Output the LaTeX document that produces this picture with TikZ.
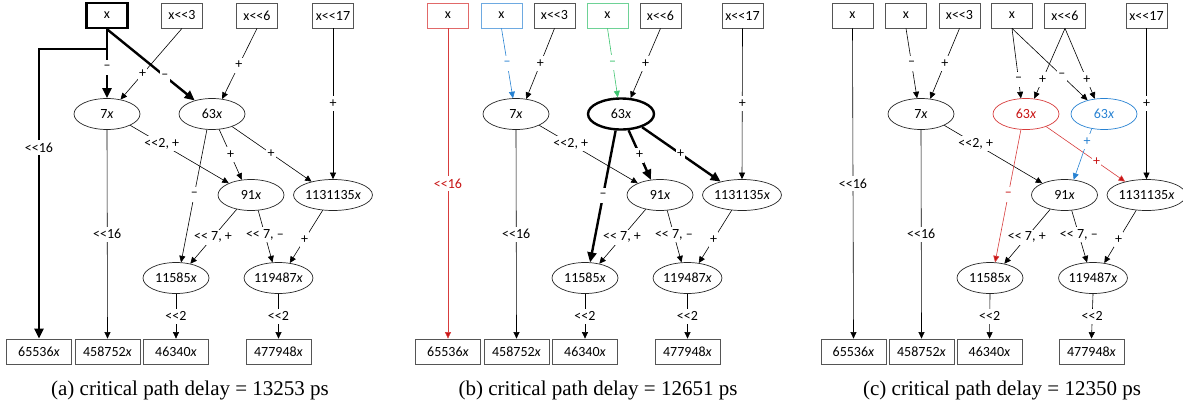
\documentclass[tikz,border=0pt]{standalone}
\usepackage{fontspec}
\setmainfont{Liberation Serif}
\newfontfamily\calfont{Carlito}
\usetikzlibrary{arrows.meta,shapes.geometric}
\newcommand\shl{<\kern0pt<}
\newcommand\nodefont{\calfont\fontsize{14}{15}\selectfont}
\definecolor{boxgray}{RGB}{85,85,85}
\definecolor{rline}{RGB}{215,60,60}
\definecolor{rtext}{RGB}{200,20,20}
\definecolor{rbox}{RGB}{225,105,105}
\definecolor{bline}{RGB}{40,130,210}
\definecolor{bbox}{RGB}{110,170,225}
\definecolor{gline}{RGB}{60,195,110}
\definecolor{gbox}{RGB}{110,210,150}
\begin{document}
\begin{tikzpicture}[x=1pt,y=-1pt,
  tb/.style={draw=boxgray, line width=0.8pt, minimum width=41pt, minimum height=25pt, inner sep=0pt, font=\nodefont},
  ob/.style={tb, minimum width=65pt},
  el/.style={ellipse, draw=black!85, line width=0.7pt, minimum width=66pt, minimum height=31pt, inner sep=0pt, font=\nodefont},
  lab/.style={fill=white, inner xsep=1.2pt, inner ysep=0pt, minimum height=15pt, font=\nodefont},
  ar/.style={line width=0.6pt, -{Triangle[length=6.5pt,width=6pt]}},
  tk/.style={line width=2.4pt, -{Triangle[length=10pt,width=9pt]}},
  captext/.style={font=\fontsize{21}{21}\selectfont}]
\useasboundingbox (0,0) rectangle (1183,408);

% ================= panel (a) =================
\node[tb, draw=black, line width=2.4pt] (ax) at (107,15.5) {x};
\node[tb] (ax3) at (182,15.5) {x\shl3};
\node[tb] (ax6) at (257,15.5) {x\shl6};
\node[tb] (ax17) at (333,15.5) {x\shl17};
\node[el] (a7) at (107,114) {7\textit{x}};
\node[el] (a63) at (212,114) {63\textit{x}};
\node[el] (a91) at (251,195) {91\textit{x}};
\node[el] (a113) at (333,195) {1131135\textit{x}};
\node[el] (a115) at (176,278) {11585\textit{x}};
\node[el] (a119) at (278.5,278) {119487\textit{x}};
\node[ob] (ab1) at (39,351.5) {65536\textit{x}};
\node[ob] (ab2) at (107.5,351.5) {458752\textit{x}};
\node[ob] (ab3) at (176,351.5) {46340\textit{x}};
\node[ob] (ab4) at (278.5,351.5) {477948\textit{x}};
\node[captext] (acap) at (190,390) {(a) critical path delay = 13253 ps};
\coordinate (ja) at (107,49);

\draw[tk] (ax.south) -- (ja) -| node[lab,pos=0.67]{\shl16} (ab1.north);
\draw[tk] (ax.south) -- node[lab,pos=0.56]{–} (a7.north);
\draw[tk] (ax.south) -- node[lab,pos=0.66]{–} (a63.142);
\draw[ar] (ax3.south) -- node[lab,pos=0.64]{+} (a7.47);
\draw[ar] (ax6.south) -- node[lab,pos=0.52]{+} (a63.56);
\draw[ar] (ax17.south) -- node[lab,pos=0.5]{+} (a113.north);
\draw[ar] (a7.-26) -- node[lab,pos=0.32]{\shl2, +} (a91.152);
\draw[ar] (a63.-65) -- node[lab,pos=0.5]{+} (a91.121);
\draw[ar] (a63.-32) -- node[lab,pos=0.49]{+} (a113.148);
\draw[ar] (a63.-108) -- node[lab,pos=0.49]{–} (a115.72);
\draw[ar] (a7.south) -- node[lab,pos=0.5]{\shl16} (ab2.north);
\draw[ar] (a91.225) -- node[lab,pos=0.51]{\shl{} 7, +} (a115.45);
\draw[ar] (a91.-65) -- node[lab,pos=0.47]{\shl{} 7, –} (a119.111);
\draw[ar] (a113.236) -- node[lab,pos=0.55]{+} (a119.53);
\draw[ar] (a115.south) -- node[lab,pos=0.5]{\shl2} (ab3.north);
\draw[ar] (a119.south) -- node[lab,pos=0.5]{\shl2} (ab4.north);

% ================= panel (b) =================
\node[tb, draw=rbox] (bxr) at (448,15.5) {x};
\node[tb, draw=bbox] (bxb) at (501.5,15.5) {x};
\node[tb] (bx3) at (554.5,15.5) {x\shl3};
\node[tb, draw=gbox] (bxg) at (607.5,15.5) {x};
\node[tb] (bx6) at (660.5,15.5) {x\shl6};
\node[tb] (bx17) at (742.5,15.5) {x\shl17};
\node[el] (b7) at (516,114) {7\textit{x}};
\node[el, draw=black, line width=2.4pt] (b63) at (621,114) {63\textit{x}};
\node[el] (b91) at (660,195) {91\textit{x}};
\node[el] (b113) at (742,195) {1131135\textit{x}};
\node[el] (b115) at (585,278) {11585\textit{x}};
\node[el] (b119) at (687.5,278) {119487\textit{x}};
\node[ob] (bb1) at (448,351.5) {65536\textit{x}};
\node[ob] (bb2) at (516.5,351.5) {458752\textit{x}};
\node[ob] (bb3) at (585,351.5) {46340\textit{x}};
\node[ob] (bb4) at (687.5,351.5) {477948\textit{x}};
\node[captext] (bcap) at (598,390) {(b) critical path delay = 12651 ps};

\draw[ar, draw=rline, -{Triangle[length=6.5pt,width=6pt,fill=rtext]}] (bxr.south) -- node[lab,pos=0.5,text=rtext]{\shl16} (bb1.north);
\draw[ar, draw=bline, -{Triangle[length=6.5pt,width=6pt,fill=bline]}] (bxb.south) -- node[lab,pos=0.5,text=bline]{–} (b7.101);
\draw[ar] (bx3.south) -- node[lab,pos=0.5]{+} (b7.56);
\draw[ar, draw=gline, -{Triangle[length=6.5pt,width=6pt,fill=gline]}] (bxg.south) -- node[lab,pos=0.5,text=gline]{–} (b63.101);
\draw[ar] (bx6.south) -- node[lab,pos=0.5]{+} (b63.59);
\draw[ar] (bx17.south) -- node[lab,pos=0.5]{+} (b113.north);
\draw[ar] (b7.-26) -- node[lab,pos=0.32]{\shl2, +} (b91.152);
\draw[tk] (b63.-65) -- node[lab,pos=0.5]{+} (b91.121);
\draw[tk] (b63.-32) -- node[lab,pos=0.49]{+} (b113.148);
\draw[tk] (b63.-108) -- node[lab,pos=0.49]{–} (b115.72);
\draw[ar] (b7.south) -- node[lab,pos=0.5]{\shl16} (bb2.north);
\draw[ar] (b91.225) -- node[lab,pos=0.51]{\shl{} 7, +} (b115.45);
\draw[ar] (b91.-65) -- node[lab,pos=0.47]{\shl{} 7, –} (b119.111);
\draw[ar] (b113.236) -- node[lab,pos=0.55]{+} (b119.53);
\draw[ar] (b115.south) -- node[lab,pos=0.5]{\shl2} (bb3.north);
\draw[ar] (b119.south) -- node[lab,pos=0.5]{\shl2} (bb4.north);

% ================= panel (c) =================
\node[tb] (cx1) at (852.5,15.5) {x};
\node[tb] (cx2) at (906,15.5) {x};
\node[tb] (cx3) at (959.5,15.5) {x\shl3};
\node[tb] (cx4) at (1012,15.5) {x};
\node[tb] (cx6) at (1065,15.5) {x\shl6};
\node[tb] (cx17) at (1146.5,15.5) {x\shl17};
\node[el] (c7) at (921,114) {7\textit{x}};
\node[el, draw=rline, text=rtext] (c63r) at (1026,114) {63\textit{x}};
\node[el, draw=bline, text=bline] (c63b) at (1104,114) {63\textit{x}};
\node[el] (c91) at (1064.5,195) {91\textit{x}};
\node[el] (c113) at (1146.5,195) {1131135\textit{x}};
\node[el] (c115) at (990,278) {11585\textit{x}};
\node[el] (c119) at (1093,278) {119487\textit{x}};
\node[ob] (cb1) at (853.5,351.5) {65536\textit{x}};
\node[ob] (cb2) at (921.5,351.5) {458752\textit{x}};
\node[ob] (cb3) at (989.5,351.5) {46340\textit{x}};
\node[ob] (cb4) at (1091.5,351.5) {477948\textit{x}};
\node[captext] (ccap) at (1002,390) {(c) critical path delay = 12350 ps};

\draw[ar] (cx1.south) -- node[lab,pos=0.5]{\shl16} (cb1.north);
\draw[ar] (cx2.south) -- node[lab,pos=0.5]{–} (c7.104);
\draw[ar] (cx3.south) -- node[lab,pos=0.5]{+} (c7.59);
\draw[ar] (cx4.south) -- node[lab,pos=0.73]{–} (c63r.108);
\draw[ar] (cx6.south) -- node[lab,pos=0.73]{+} (c63r.62);
\draw[ar] (cx4.south) -- node[lab,pos=0.66]{–} (c63b.140);
\draw[ar] (cx6.south) -- node[lab,pos=0.73]{+} (c63b.121);
\draw[ar] (cx17.south) -- node[lab,pos=0.5]{+} (c113.north);
\draw[ar] (c7.-26) -- node[lab,pos=0.32]{\shl2, +} (c91.152);
\draw[ar, draw=rline, -{Triangle[length=6.5pt,width=6pt,fill=rtext]}] (c63r.-108) -- node[lab,pos=0.49,text=rtext]{–} (c115.72);
\draw[ar, draw=rline, -{Triangle[length=6.5pt,width=6pt,fill=rtext]}] (c63r.-32) -- node[lab,pos=0.64,text=rtext]{+} (c113.148);
\draw[ar, draw=bline, -{Triangle[length=6.5pt,width=6pt,fill=bline]}] (c63b.230) -- node[lab,pos=0.25,text=bline]{+} (c91.59);
\draw[ar] (c7.south) -- node[lab,pos=0.5]{\shl16} (cb2.north);
\draw[ar] (c91.225) -- node[lab,pos=0.51]{\shl{} 7, +} (c115.45);
\draw[ar] (c91.-65) -- node[lab,pos=0.47]{\shl{} 7, –} (c119.111);
\draw[ar] (c113.236) -- node[lab,pos=0.55]{+} (c119.53);
\draw[ar] (c115.south) -- node[lab,pos=0.5]{\shl2} (cb3.north);
\draw[ar] (c119.south) -- node[lab,pos=0.5]{\shl2} (cb4.north);
\end{tikzpicture}
\end{document}
